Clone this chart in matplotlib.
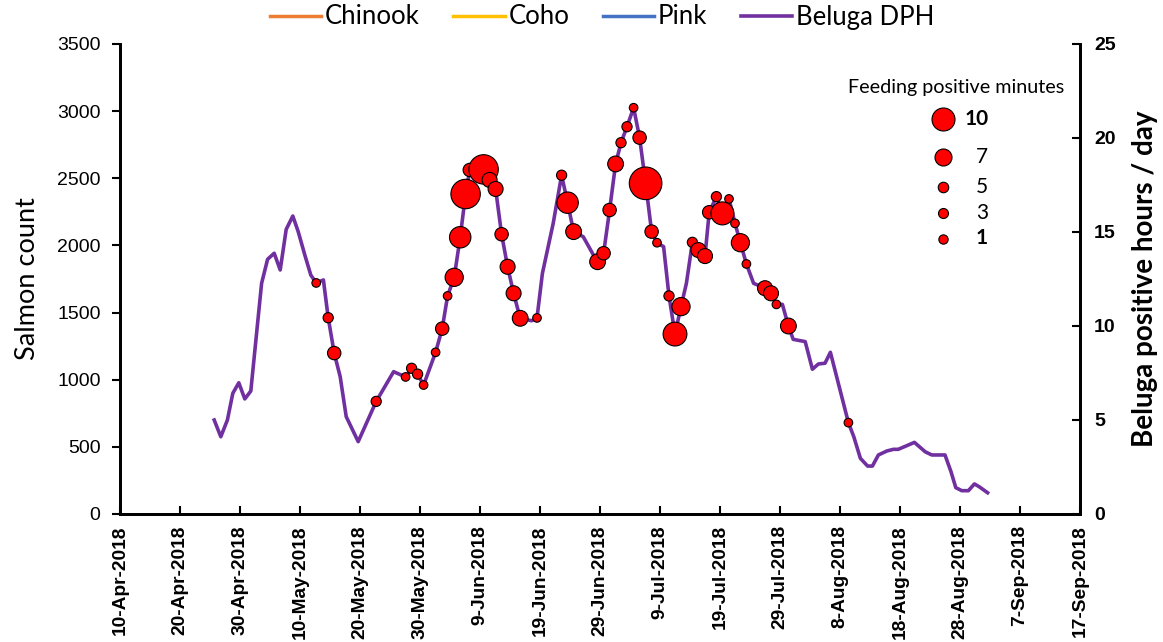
import matplotlib
matplotlib.use("Agg")
import matplotlib.pyplot as plt
import matplotlib.dates as mdates
from matplotlib.lines import Line2D
import datetime as dt

# ---------------- data ----------------
start_date = dt.datetime(2018, 4, 10)
tick_dates = [start_date + dt.timedelta(days=10 * i) for i in range(17)]

series_names = ["Chinook", "Coho", "Pink", "Beluga DPH"]
# salmon counts (no values visible in the chart)
chinook_days, chinook_counts = [], []
coho_days, coho_counts = [], []
pink_days, pink_counts = [], []

# Beluga detection positive hours per day (days since 10-Apr-2018)
dph_day = [15.7, 16.8, 17.9, 18.8, 19.8, 20.8, 21.8, 23.6, 24.6, 25.7, 26.7, 27.7,
           28.8, 29.7, 30.8, 31.8, 32.7, 33.9, 34.7, 35.7, 36.7, 37.7, 39.7, 42.7,
           45.6, 47.6, 48.6, 49.6, 50.6, 52.6, 53.7, 54.6, 55.7, 56.7, 57.6, 58.3,
           60.6, 61.6, 62.6, 63.6, 64.6, 65.6, 66.7, 68.6, 69.5, 70.4, 72.2, 73.6,
           74.6, 75.6, 77.2, 78.9, 79.6, 80.6, 81.6, 82.6, 83.5, 84.5, 85.6, 86.6,
           87.6, 88.6, 89.5, 90.6, 91.5, 92.5, 93.5, 94.4, 95.4, 96.4, 97.5, 98.2,
           99.4, 100.4, 101.5, 102.5, 103.4, 104.4, 105.6, 107.5, 108.5, 109.4, 110.4, 111.4,
           112.2, 114.2, 115.4, 116.4, 117.5, 118.4, 121.4, 122.3, 123.4, 124.6, 125.4, 126.4,
           127.8, 128.9, 129.7, 131.1, 132.4, 134.2, 135.3, 137.5, 138.5, 139.3, 140.3, 141.4,
           142.4, 143.2, 144.6]
dph_val = [5.00, 4.11, 5.00, 6.42, 6.98, 6.12, 6.54, 12.27, 13.55, 13.87, 12.98, 15.14,
           15.85, 15.02, 13.78, 12.71, 12.29, 12.45, 10.44, 8.56, 7.30, 5.18, 3.85, 5.99,
           7.57, 7.29, 7.75, 7.44, 6.86, 8.60, 9.86, 11.60, 12.59, 14.72, 17.02, 18.30,
           18.33, 17.77, 17.29, 14.88, 13.15, 11.74, 10.41, 10.28, 10.43, 12.80, 15.46, 18.02,
           16.56, 15.02, 14.75, 13.78, 13.42, 13.87, 16.17, 18.62, 19.75, 20.60, 21.61, 20.02,
           17.59, 15.02, 14.43, 14.22, 11.60, 9.57, 11.03, 12.27, 14.45, 14.04, 13.72, 16.05,
           16.88, 15.99, 16.76, 15.46, 14.43, 13.30, 12.27, 12.01, 11.74, 11.15, 11.15, 10.00,
           9.29, 9.17, 7.70, 7.98, 8.02, 8.60, 4.86, 4.11, 2.96, 2.55, 2.55, 3.14,
           3.35, 3.44, 3.44, 3.63, 3.81, 3.31, 3.14, 3.14, 2.25, 1.40, 1.24, 1.24,
           1.60, 1.45, 1.13]

# Feeding-positive minutes (bubbles) on the DPH line
feed_day = [32.7, 34.7, 35.7, 42.7, 47.6, 48.6, 49.6, 50.6, 52.6, 53.7, 54.6, 55.7,
            56.7, 57.6, 58.3, 60.6, 61.6, 62.6, 63.6, 64.6, 65.6, 66.7, 69.5, 73.6,
            74.6, 75.6, 79.6, 80.6, 81.6, 82.6, 83.5, 84.5, 85.6, 86.6, 87.6, 88.6,
            89.5, 91.5, 92.5, 93.5, 95.4, 96.4, 97.5, 98.2, 99.4, 100.4, 101.5, 102.5,
            103.4, 104.4, 107.5, 108.5, 109.4, 111.4, 121.4]
feed_val = [12.29, 10.44, 8.56, 5.99, 7.29, 7.75, 7.44, 6.86, 8.60, 9.86, 11.60, 12.59,
            14.72, 17.02, 18.30, 18.33, 17.77, 17.29, 14.88, 13.15, 11.74, 10.41, 10.43, 18.02,
            16.56, 15.02, 13.42, 13.87, 16.17, 18.62, 19.75, 20.60, 21.61, 20.02, 17.59, 15.02,
            14.43, 11.60, 9.57, 11.03, 14.45, 14.04, 13.72, 16.05, 16.88, 15.99, 16.76, 15.46,
            14.43, 13.30, 12.01, 11.74, 11.15, 10.00, 4.86]
feed_min = [1, 2, 4, 2, 1, 2, 2, 1, 1, 4, 1, 7,
            9, 14, 4, 14, 5, 5, 4, 5, 5, 5.5, 1, 2,
            9, 5.5, 5.5, 4, 4, 5.5, 2, 2, 1, 4, 16, 4,
            1, 2, 10.5, 7, 2, 5, 5, 4, 2, 10, 1, 1,
            7, 1, 5, 5, 1, 5.5, 1]

legend_minutes = [10, 7, 5, 3, 1]

# ---------------- style ----------------
PURPLE = "#7030A0"
COLORS = {"Chinook": "#ED7D31", "Coho": "#FFC000", "Pink": "#4472C4", "Beluga DPH": PURPLE}
W, H = 1163, 642

def diam_px(m):
    return 7 + 1.6 * m

def pt(px):
    return px * 72.0 / 100.0

fig = plt.figure(figsize=(W / 100, H / 100), dpi=100)
ax = fig.add_axes([120 / W, 1 - 514 / H, 960 / W, 470 / H])
ax2 = ax.twinx()

base = mdates.date2num(start_date)
to_x = lambda days: [base + d for d in days]

# salmon (empty) series on left axis
l1, = ax.plot(to_x(chinook_days), chinook_counts, color=COLORS["Chinook"], lw=2.5)
l2, = ax.plot(to_x(coho_days), coho_counts, color=COLORS["Coho"], lw=2.5)
l3, = ax.plot(to_x(pink_days), pink_counts, color=COLORS["Pink"], lw=2.5)

# beluga line + feeding bubbles on right axis
l4, = ax2.plot(to_x(dph_day), dph_val, color=PURPLE, lw=2.6, solid_joinstyle="round", zorder=2)
ax2.scatter(to_x(feed_day), feed_val, s=[pt(diam_px(m)) ** 2 for m in feed_min],
            facecolor="#FF0000", edgecolor="black", linewidths=0.8, zorder=3)

# axes limits and ticks
ax.set_xlim(mdates.date2num(tick_dates[0]), mdates.date2num(tick_dates[-1]))
ax.set_ylim(0, 3500)
ax.set_yticks(range(0, 3501, 500))
ax2.set_ylim(0, 25)
ax2.set_yticks(range(0, 26, 5))
ax.set_xticks([mdates.date2num(d) for d in tick_dates])
ax.set_xticklabels([f"{d.day}-{d.strftime('%b')}-{d.year}" for d in tick_dates],
                   rotation=90, fontsize=13.8, fontweight="bold", family="Liberation Sans")

for a in (ax, ax2):
    a.spines["top"].set_visible(False)
    for s in ("left", "right", "bottom"):
        a.spines[s].set_linewidth(2)
ax.tick_params(axis="x", direction="in", length=6, width=1.5, pad=8)
ax.tick_params(axis="y", direction="out", length=6, width=1.5, labelsize=14, pad=8)
for t in ax.get_yticklabels():
    t.set_family("Liberation Sans")
ax2.tick_params(axis="y", direction="in", length=6, width=1.5, labelsize=14, pad=10)
for t in ax2.get_yticklabels():
    t.set_family("Liberation Sans")
    t.set_fontweight("bold")

ax.set_ylabel("Salmon count", fontsize=19.5, family="Lato", labelpad=12)
ax2.set_ylabel("Beluga positive hours / day", fontsize=20, family="Lato",
               fontweight="bold", labelpad=12)

# top legend
fig.legend([l1, l2, l3, l4], series_names, loc="center", ncol=4,
           bbox_to_anchor=(602 / W, 1 - 17 / H), frameon=False,
           prop={"family": "Lato", "size": 18.5}, handlelength=2.0,
           handletextpad=0.15, columnspacing=1.3, borderaxespad=0)

# feeding legend (bubble sizes)
fig.text(956 / W, 1 - 87 / H, "Feeding positive minutes", ha="center", va="center",
         fontsize=14.2, family="Lato")
leg_y = [119, 157.5, 187, 213, 238.5]
leg_d = [23, 17, 10.5, 10, 9.3]
for m, yy, dd in zip(legend_minutes, leg_y, leg_d):
    fig.add_artist(Line2D([943 / W], [1 - yy / H], marker="o", markersize=pt(dd),
                          markerfacecolor="#FF0000", markeredgecolor="black",
                          markeredgewidth=0.8, transform=fig.transFigure))
    bold = m in (10, 1)
    fig.text((977 if m == 10 else 982) / W, 1 - yy / H, str(m), ha="center", va="center",
             fontsize=15, family="Lato", fontweight="bold" if bold else "normal")

fig.savefig("out.png", dpi=100)
